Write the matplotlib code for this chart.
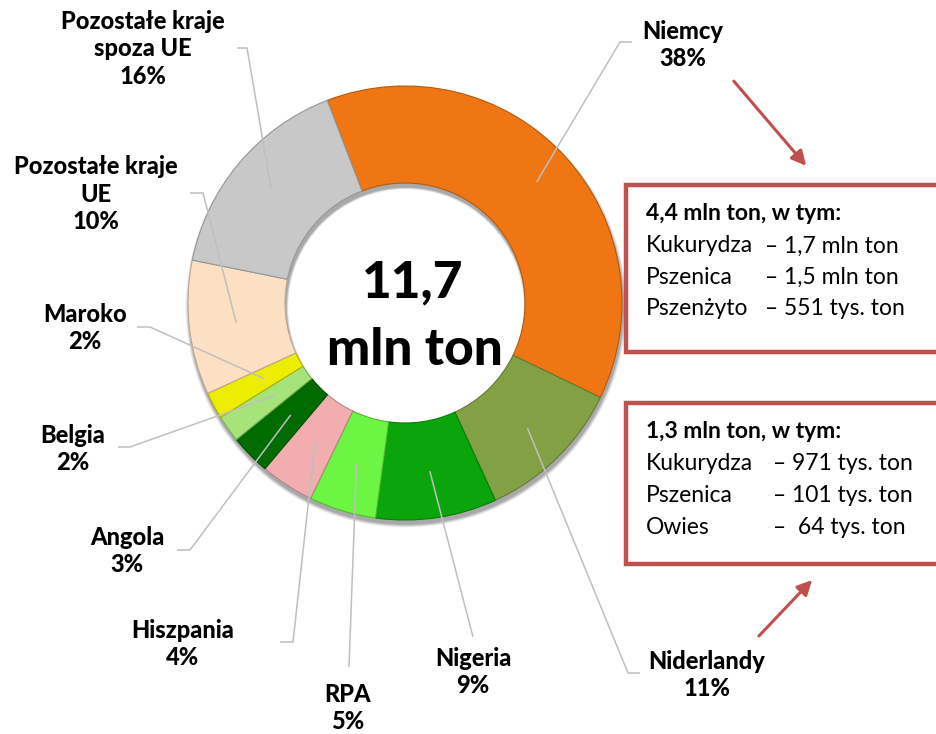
import numpy as np
import matplotlib.pyplot as plt
from matplotlib.patches import Rectangle, Wedge
import matplotlib.colors as mcolors

plt.rcParams['font.family'] = ['Lato', 'DejaVu Sans']

# data (clockwise from the top)
countries = ['Niemcy', 'Niderlandy', 'Nigeria', 'RPA', 'Hiszpania', 'Angola',
             'Belgia', 'Maroko', 'Pozostałe kraje\nUE', 'Pozostałe kraje\nspoza UE']
shares = [38, 11, 9, 5, 4, 3, 2, 2, 10, 16]
colors = ['#F07613', '#82A145', '#0AA50A', '#6CF542', '#F2AEAE', '#006B00',
          '#A6E47A', '#EDED00', '#FDDFC4', '#C8C8C8']
total = ['11,7', 'mln ton']

box1_head = '4,4 mln ton, w tym:'
box1_items = ['Kukurydza', 'Pszenica', 'Pszenżyto']
box1_vals = ['– 1,7 mln ton', '– 1,5 mln ton', '– 551 tys. ton']
box2_head = '1,3 mln ton, w tym:'
box2_items = ['Kukurydza', 'Pszenica', 'Owies']
box2_vals = ['– 971 tys. ton', '– 101 tys. ton', '–  64 tys. ton']

W, H = 937, 734
fig = plt.figure(figsize=(W / 100, H / 100), dpi=100)
ax = fig.add_axes([0, 0, 1, 1])


def py(y):
    # pixel row from the top -> data y
    return H - y


cx, cy, R, ring = 405, py(303), 217, 97

# soft shadow under the ring
for k, a in zip(range(6, 0, -1), [0.04, 0.05, 0.06, 0.07, 0.08, 0.09]):
    ax.add_patch(Wedge((cx + 1, cy - 4), R + k * 0.6, 0, 360, width=ring + k,
                       facecolor='black', alpha=a, lw=0))

edge = [tuple(c * 0.75 for c in mcolors.to_rgb(col)) for col in colors]
wedges, _ = ax.pie(shares, colors=colors, startangle=111, counterclock=False,
                   radius=R, center=(cx, cy), frame=True,
                   wedgeprops=dict(width=ring, linewidth=0.8))
for w, e in zip(wedges, edge):
    w.set_edgecolor(e)
ax.set_xlim(0, W)
ax.set_ylim(0, H)
ax.set_aspect('equal')
ax.axis('off')

# label positions (pixels) and leader elbows
label_xy = [(683, 45), (707, 675), (473, 672), (348, 708), (183, 644),
            (127, 551), (73, 449), (85, 328), (96, 194), (143, 49)]
elbow = [(620, 42, 632), (628, 673, 640), (473, 637, None), (349, 667, None),
         (293, 642, 280), (190, 550, 177), (130, 447, 118), (150, 327, 137),
         (203, 193, 190), (247, 48, 237)]
start_r = [179, 175, 170, 168, 165, 160, 160, 160, 170, 175]

for w, lab, s, (lx, ly), (ex, ey, hx), r0 in zip(wedges, countries, shares,
                                                 label_xy, elbow, start_r):
    mid = np.deg2rad((w.theta1 + w.theta2) / 2)
    sx, sy = cx + r0 * np.cos(mid), cy + r0 * np.sin(mid)
    xs, ys = [sx, ex], [sy, py(ey)]
    if hx is not None:
        xs.append(hx)
        ys.append(py(ey))
    ax.plot(xs, ys, color='#BFBFBF', lw=1.1, solid_capstyle='butt')
    ax.text(lx, py(ly), f'{lab}\n{s}%', ha='center', va='center',
            fontsize=17, fontweight='black', linespacing=1.22, color='black')

ax.text(cx + 8, py(297), total[0], ha='center', va='baseline', fontsize=37,
        fontweight='black')
ax.text(cx + 10, py(365), total[1], ha='center', va='baseline', fontsize=37,
        fontweight='black')

# callout boxes
red = '#C0504D'
for top, bottom, head, items, vals, vx in [
        (185, 352, box1_head, box1_items, box1_vals, 765),
        (403, 564, box2_head, box2_items, box2_vals, 773)]:
    ax.add_patch(Rectangle((626, py(bottom)), 400, bottom - top,
                           facecolor='white', edgecolor=red, lw=3.2))
    ax.text(646, py(top + 29), head, fontsize=16.5, fontweight='bold',
            va='center', ha='left')
    for i, (it, v) in enumerate(zip(items, vals)):
        yy = py(top + 61 + i * 31.5)
        ax.text(646, yy, it, fontsize=16.5, va='center', ha='left')
        ax.text(vx, yy, v, fontsize=16.5, va='center', ha='left')

# arrows
ax.annotate('', xy=(808, py(168)), xytext=(732, py(79)),
            arrowprops=dict(arrowstyle='-|>', color=red, lw=2.2,
                            mutation_scale=22))
ax.annotate('', xy=(814, py(578)), xytext=(757, py(638)),
            arrowprops=dict(arrowstyle='-|>', color=red, lw=2.2,
                            mutation_scale=22))

fig.savefig('out.png', dpi=100)
